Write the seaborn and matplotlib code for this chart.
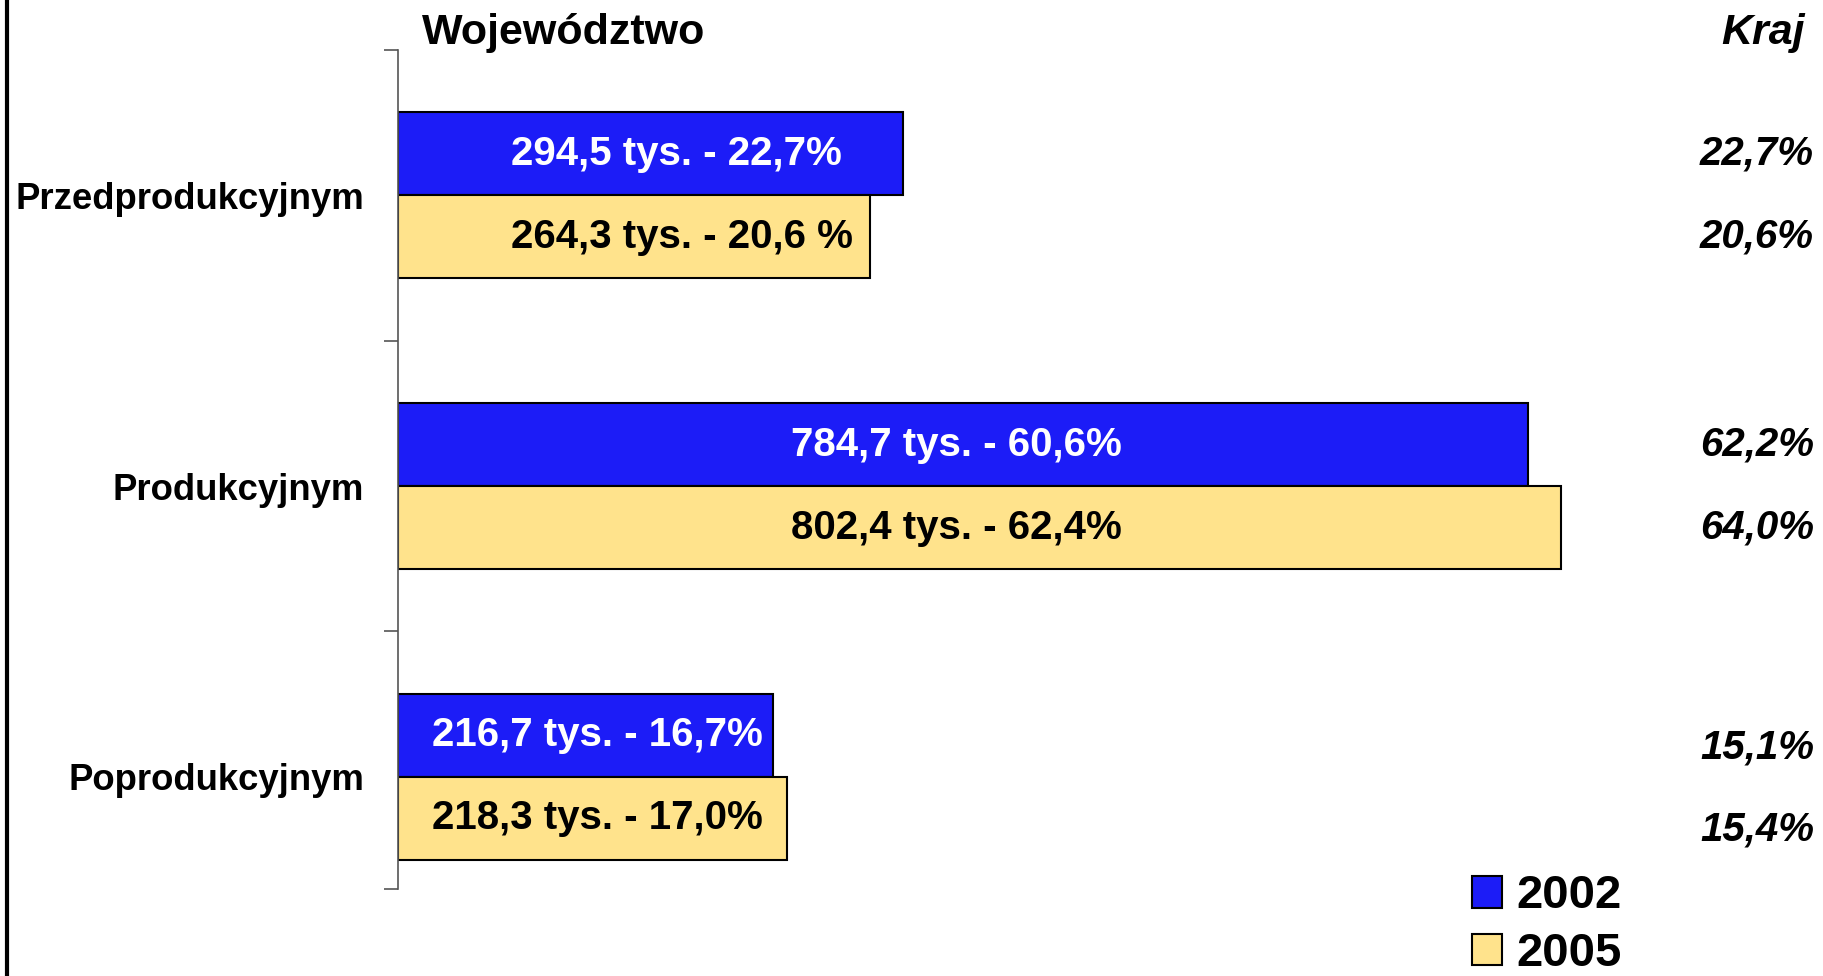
import pandas as pd
import matplotlib.pyplot as plt
import seaborn as sns
from matplotlib.patches import Patch
from matplotlib.lines import Line2D

# data
categories = ['Przedprodukcyjnym', 'Produkcyjnym', 'Poprodukcyjnym']
years = ['2002', '2005']
# bar lengths as drawn (thousands, scale of the longest bar)
len_2002 = [348.7, 779.2, 258.9]
len_2005 = [325.5, 802.4, 268.5]
labels_2002 = ['294,5 tys. - 22,7%', '784,7 tys. - 60,6%', '216,7 tys. - 16,7%']
labels_2005 = ['264,3 tys. - 20,6 %', '802,4 tys. - 62,4%', '218,3 tys. - 17,0%']
kraj_2002 = ['22,7%', '62,2%', '15,1%']
kraj_2005 = ['20,6%', '64,0%', '15,4%']

colors = {'2002': '#1C1CF7', '2005': '#FFE38C'}

df = pd.DataFrame({
    'kategoria': categories * 2,
    'rok': ['2002'] * 3 + ['2005'] * 3,
    'wartosc': len_2002 + len_2005,
})

sns.set_style('white')
plt.rcParams['font.family'] = ['Liberation Sans', 'DejaVu Sans']
plt.rcParams['font.weight'] = 'bold'
plt.rcParams['text.color'] = 'black'
plt.rcParams['ytick.color'] = 'black'
plt.rcParams['ytick.labelcolor'] = 'black'

fig = plt.figure(figsize=(18.23, 9.76), dpi=100)
ax = fig.add_axes([0.2181, 0.0891, 0.7819, 0.8597])

sns.barplot(data=df, y='kategoria', x='wartosc', hue='rok', orient='h',
            palette=colors, width=0.57, dodge=True, edgecolor='black',
            linewidth=1.5, saturation=1, legend=False, ax=ax)

ax.set_xlim(0, 982.8)
ax.set_ylim(2.386, -0.5)
ax.set_xlabel('')
ax.set_ylabel('')
ax.set_xticks([])

# tick marks between groups, category names as minor labels
ax.set_yticks([-0.5, 0.5, 1.5, 2.386])
ax.set_yticklabels([])
ax.set_yticks([0, 1, 2], minor=True)
ax.set_yticklabels(categories, minor=True, fontsize=26.3, fontweight='bold',
                   color='black')
ax.tick_params(axis='y', which='major', direction='out', length=10,
               width=1.2, color='#555555', left=True)
ax.tick_params(axis='y', which='minor', length=0, pad=24)

for side in ['top', 'right', 'bottom']:
    ax.spines[side].set_visible(False)
ax.spines['left'].set_color('#555555')
ax.spines['left'].set_linewidth(1.2)

# labels inside bars
label_x = [78.5, 271, 24]
off = 0.1425
for i in range(len(categories)):
    ax.text(label_x[i], i - off, labels_2002[i], color='white', fontsize=29,
            fontweight='bold', va='center', ha='left')
    ax.text(label_x[i], i + off, labels_2005[i], color='black', fontsize=29,
            fontweight='bold', va='center', ha='left')

# national values on the right
kraj_shift = [0, 0, 0.04]
tr = ax.get_yaxis_transform()
for i in range(len(categories)):
    ax.text(0.9937, i - off + kraj_shift[i], kraj_2002[i], transform=tr,
            fontsize=29, fontweight='bold', style='italic', ha='right',
            va='center', clip_on=False, color='black')
    ax.text(0.9937, i + off + kraj_shift[i], kraj_2005[i], transform=tr,
            fontsize=29, fontweight='bold', style='italic', ha='right',
            va='center', clip_on=False, color='black')

fig.text(0.2315, 0.966, 'Województwo', fontsize=31, fontweight='bold',
         ha='left', va='center', color='black')
fig.text(0.990, 0.966, 'Kraj', fontsize=31, fontweight='bold',
         style='italic', ha='right', va='center', color='black')

handles = [Patch(facecolor=colors[y], edgecolor='black', linewidth=1.5)
           for y in years]
fig.legend(handles, years, loc='upper left', bbox_to_anchor=(0.8075, 0.104),
           frameon=False, handlelength=0.64, handleheight=0.64,
           handletextpad=0.3, labelspacing=0.29, borderpad=0,
           borderaxespad=0, prop={'weight': 'bold', 'size': 34})

# black frame line at the left edge
fig.add_artist(Line2D([0.0038, 0.0038], [0, 1], color='black', lw=3,
                      transform=fig.transFigure))

plt.savefig('out.png', dpi=100)
plt.close()
